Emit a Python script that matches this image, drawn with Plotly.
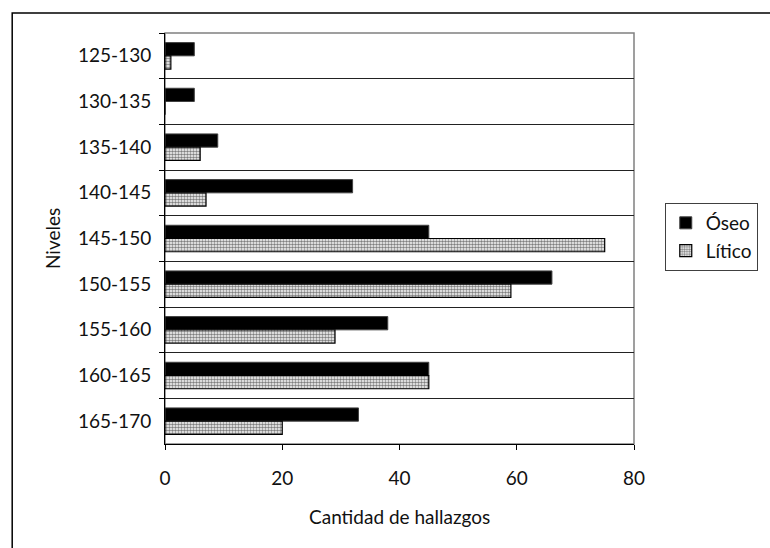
import plotly.graph_objects as go

# Excavation levels (cm) and counts of finds per material
niveles = ["125-130", "130-135", "135-140", "140-145", "145-150",
           "150-155", "155-160", "160-165", "165-170"]
oseo = [5, 5, 9, 32, 45, 66, 38, 45, 33]
litico = [1, 0, 6, 7, 75, 59, 29, 45, 20]
x_ticks = [0, 20, 40, 60, 80]

FONT = "Lato"
TXT = dict(family=FONT, size=19, color="#111111", weight=400)

fig = go.Figure()
fig.add_trace(go.Bar(
    y=niveles, x=oseo, name="Óseo", orientation="h",
    marker=dict(color="black", line=dict(color="#404040", width=1)),
    legendgroup="oseo",
))
fig.add_trace(go.Bar(
    y=niveles, x=litico, name="Lítico", orientation="h",
    marker=dict(
        color="white",
        line=dict(color="black", width=1.2),
        pattern=dict(shape=".", fgcolor="black", bgcolor="white",
                     size=3, solidity=0.55),
    ),
    legendgroup="litico",
))

fig.update_layout(
    width=770, height=548,
    margin=dict(l=165, r=117, t=33, b=104),
    paper_bgcolor="white", plot_bgcolor="white",
    barmode="group", bargap=0.42, bargroupgap=0,
    font=TXT,
    showlegend=True,
    legend=dict(
        x=1.0656, y=0.5864, xanchor="left", yanchor="top",
        bordercolor="#404040", borderwidth=1, bgcolor="white",
        font=TXT, tracegroupgap=9, traceorder="normal",
    ),
    xaxis=dict(
        range=[0, 80], tickvals=x_ticks, showgrid=False, zeroline=False,
        showline=True, linecolor="black", linewidth=1,
        ticks="outside", ticklen=5, tickcolor="black",
        ticklabelstandoff=12, tickfont=TXT,
    ),
    yaxis=dict(
        type="category", autorange="reversed", tickson="boundaries",
        showgrid=True, gridcolor="#222222", gridwidth=1,
        showline=True, linecolor="black", linewidth=1,
        ticks="outside", ticklen=5, tickcolor="black",
        ticklabelstandoff=9, tickfont=TXT,
    ),
    shapes=[
        # plot area border (gray top/right edges)
        dict(type="rect", xref="paper", yref="paper", x0=0, x1=1, y0=0, y1=1,
             line=dict(color="#808080", width=1.5), layer="below"),
        # outer chart frame
        dict(type="rect", xref="paper", yref="paper",
             x0=-0.3258, x1=1.3, y0=-0.4, y1=1.0487,
             line=dict(color="black", width=1.5), layer="below"),
    ],
    annotations=[
        dict(text="Niveles", xref="paper", yref="paper", x=-0.2398, y=0.5,
             textangle=-90, showarrow=False, xanchor="center", yanchor="middle",
             font=TXT),
        dict(text="Cantidad de hallazgos", xref="paper", yref="paper",
             x=0.5, y=-0.1776, showarrow=False, xanchor="center",
             yanchor="middle", font=TXT),
    ],
)

fig.write_html("out.html")
